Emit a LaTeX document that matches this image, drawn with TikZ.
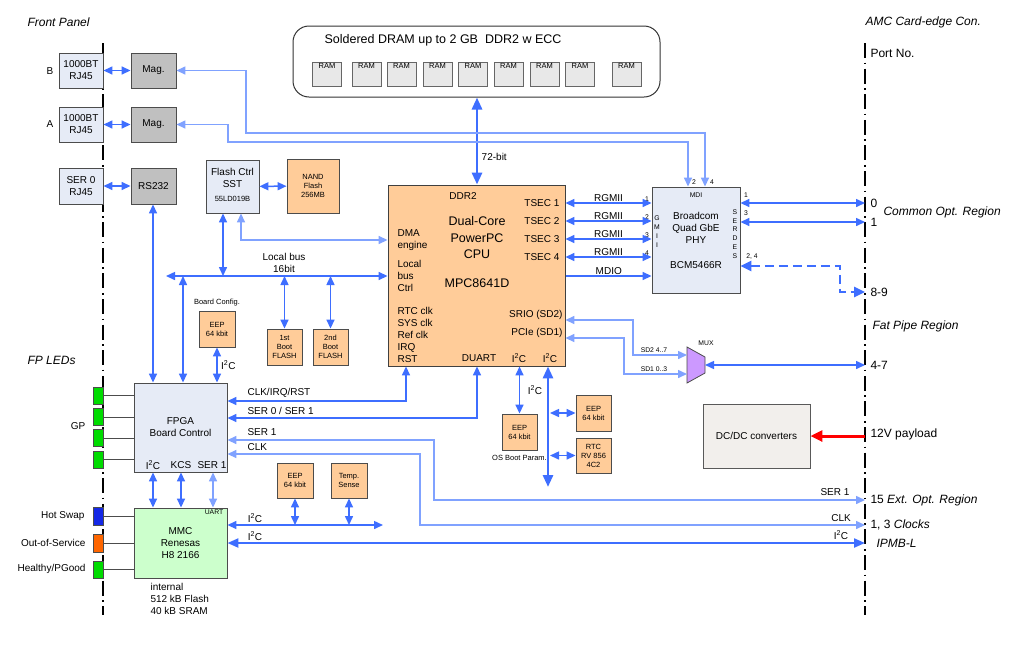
\documentclass[tikz,border=0pt]{standalone}
\usepackage{fontspec}
\setmainfont{Liberation Sans}
\usetikzlibrary{arrows.meta}

\definecolor{azulbus}{RGB}{62,110,255}
\definecolor{azulclaro}{RGB}{128,162,255}
\definecolor{cajaazul}{RGB}{230,235,246}
\definecolor{durazno}{RGB}{255,204,153}
\definecolor{grismag}{RGB}{192,192,192}
\definecolor{verdemmc}{RGB}{204,255,204}
\definecolor{verdeled}{RGB}{0,220,0}
\definecolor{azulled}{RGB}{20,40,230}
\definecolor{naranjaled}{RGB}{255,102,0}
\definecolor{lila}{RGB}{204,153,255}
\definecolor{grisdc}{RGB}{242,239,236}
\definecolor{gristam}{RGB}{232,232,232}

\newcommand{\iic}{I\textsuperscript{2}C}

\tikzset{
  letra/.style={font=\fontsize{10}{12}\selectfont},
  chica/.style={font=\fontsize{7.5}{9}\selectfont},
  mini/.style={font=\fontsize{6.8}{8.8}\selectfont},
  grande/.style={font=\fontsize{12.5}{16.5}\selectfont},
  puerto/.style={font=\fontsize{12}{14}\selectfont},
  titulo/.style={font=\fontsize{12}{14}\selectfont\itshape},
  caja/.style={draw=black!70, line width=0.9pt, align=center, inner sep=1pt},
  cajaA/.style={caja, fill=cajaazul, letra},
  cajaD/.style={caja, fill=durazno, chica},
  cajaG/.style={caja, fill=grismag, letra, minimum width=45pt, minimum height=35pt},
  ram/.style={caja, fill=gristam, draw=black!60, minimum width=29pt, minimum height=24pt,
    label={[anchor=north, inner sep=2pt, chica]north:RAM}},
  led/.style={draw=black!70, line width=0.6pt, minimum width=10pt, minimum height=17pt, inner sep=0pt},
  conn/.style={draw=azulbus, line width=1.5pt, <->},
  fino/.style={draw=azulclaro, line width=1.5pt, <->},
  grueso/.style={draw=azulbus, line width=2.8pt, <->, >={Triangle[length=12pt,width=10pt]}},
  borde/.style={line width=2.4pt, dash pattern=on 15pt off 4.5pt on 1.6pt off 4.5pt},
  >={Triangle[length=9pt,width=8pt]}
}

\begin{document}
\begin{tikzpicture}[x=1pt,y=-1pt]
\useasboundingbox (0,0) rectangle (1024,646);
\fill[white] (0,0) rectangle (1024,646);

% Bordes
\draw[borde] (103,43) -- (103,615);
\draw[borde] (865,43) -- (865,615);
\node[titulo, anchor=west] (tfp) at (24,22) {Front Panel};
\node[titulo, anchor=west] (tamc) at (862,22) {AMC Card-edge Con.};
\node[puerto, anchor=west] (tport) at (867,53) {Port No.};
\node[titulo, anchor=west] (tled) at (24,360) {FP LEDs};

% Panel frontal
\node[cajaA, minimum width=44pt, minimum height=35pt] (rjB) at (81,70.5) {1000BT\\RJ45};
\node[cajaG] (magB) at (153.5,70.5) {Mag.};
\node[cajaA, minimum width=44pt, minimum height=35pt] (rjA) at (81,124.5) {1000BT\\RJ45};
\node[cajaG] (magA) at (153.5,124.5) {Mag.};
\node[cajaA, minimum width=44pt, minimum height=36pt] (rjS) at (81,186) {SER 0\\RJ45};
\node[cajaG, minimum height=36pt] (rs) at (153.5,186) {RS232};
\node[letra] (lB) at (50,71) {B};
\node[letra] (lA) at (50,124) {A};
\draw[conn] (rjB) -- (magB);
\draw[conn] (rjA) -- (magA);
\draw[conn] (rjS) -- (rs);

% DRAM
\node[draw=black!80, line width=1pt, rounded corners=16pt, minimum width=367pt, minimum height=71pt] (dram) at (476.5,61.5) {};
\node[font=\fontsize{12.5}{14}\selectfont] (tdram) at (443,40) {Soldered DRAM up to 2 GB\ \ DDR2 w ECC};
\foreach \x [count=\i] in {327,366.5,401.5,437.5,473,508.5,544.5,580,626.5}
  \node[ram] (ram\i) at (\x,74) {};

% CPU
\node[caja, fill=durazno, draw=black!75, minimum width=177pt, minimum height=181pt] (cpu) at (476.5,275.5) {};
\node[letra] (tddr) at (463,196) {DDR2};
\node[grande, align=center] (tcpu) at (477,238) {Dual-Core\\PowerPC\\CPU};
\node[grande] (tmpc) at (477,283) {MPC8641D};
\node[letra, anchor=west, align=left] (dma) at (394,240) {DMA\\engine};
\node[letra, anchor=west, align=left] (lbc) at (394,276) {Local\\bus\\Ctrl};
\node[letra, anchor=west, align=left] (tclk) at (394,335) {RTC clk\\SYS clk\\Ref clk\\IRQ\\RST};
\foreach \i/\y in {1/203,2/221,3/239,4/257}
  \node[letra, anchor=east] (tsec\i) at (563,\y) {TSEC \i};
\node[letra, anchor=east] (srio) at (566,315) {SRIO (SD2)};
\node[letra, anchor=east] (pcie) at (566,333) {PCIe (SD1)};
\node[letra] (duart) at (479,358) {DUART};
\node[letra] (ci2a) at (519,358) {\iic};
\node[letra] (ci2b) at (550,358) {\iic};
\draw[grueso] (cpu.north -| 477,0) -- (dram.south -| 477,0) node[pos=0.32, right, letra] (t72) {72-bit};

% PHY
\node[cajaA, minimum width=88pt, minimum height=106pt] (phy) at (696,240) {};
\node[mini] (tmdi) at (696,195) {MDI};
\node[letra, align=center] (tphy) at (696,228) {Broadcom\\Quad GbE\\PHY};
\node[letra] (tbcm) at (696,265) {BCM5466R};
\node[mini, align=center] (tgmii) at (657,231.5) {G\\M\\I\\I};
\node[mini, align=center] (tserdes) at (735,234) {S\\E\\R\\D\\E\\S};
\foreach \i/\y in {1/199,2/217,3/235,4/253}
  \node[mini] (pg\i) at (647,\y) {\i};
\node[mini] (pm2) at (694,182) {2};
\node[mini] (pm4) at (712,182) {4};
\node[mini] (ps1) at (746,195) {1};
\node[mini] (ps3) at (746,213) {3};
\node[mini] (ps24) at (752,257) {2, 4};
\foreach \i in {1,...,4}
  \draw[conn] (cpu.east |- tsec\i) -- (phy.west |- tsec\i) node[midway, above, letra, inner sep=1pt] (rg\i) {RGMII};
\coordinate (mdio) at (566,276);
\draw[conn, ->] (mdio) -- (phy.west |- mdio) node[midway, above, letra, inner sep=1pt] (tmdio) {MDIO};
\draw[fino] (magB.east) -| (246,133) -| (phy.north -| 705,0);
\draw[fino] (magA.east) -| (228,142) -| (phy.north -| 688,0);

% Puertos AMC
\coordinate (p0) at (865,203);
\coordinate (p1) at (865,222);
\coordinate (p89) at (865,292);
\coordinate (p47) at (865,365);
\coordinate (p12) at (865,436);
\coordinate (p15) at (865,500);
\coordinate (p13) at (865,525);
\coordinate (pipmb) at (865,543);
\draw[conn] (phy.east |- p0) -- (p0);
\draw[conn] (phy.east |- p1) -- (p1);
\draw[draw=azulbus, line width=2.5pt, dash pattern=on 9pt off 5pt, <->, >={Triangle[length=11pt,width=10pt]}]
  (phy.east |- 0,266) -| (840,292) -- (p89);
\node[puerto, anchor=west] (l0) at (867,203) {0};
\node[puerto, anchor=west] (l1) at (867,222) {1};
\node[titulo, anchor=west] (tcom) at (880,212) {Common Opt. Region};
\node[puerto, anchor=west] (l89) at (867,292) {8-9};
\node[titulo, anchor=west] (tfat) at (869,326) {Fat Pipe Region};
\node[puerto, anchor=west] (l47) at (867,365) {4-7};
\node[puerto, anchor=west] (l12) at (867,434) {12V payload};
\node[puerto, anchor=west] (l15) at (867,500) {15 \textit{Ext. Opt. Region}};
\node[puerto, anchor=west] (l13) at (867,525) {1, 3 \textit{Clocks}};
\node[titulo, anchor=west] (lipmb) at (873,543) {IPMB-L};

% Flash y bus local
\node[cajaA, minimum width=53pt, minimum height=53pt] (fctrl) at (232.5,186.5) {};
\node[letra, align=center] (tfctrl) at (232.5,178) {Flash Ctrl\\SST};
\node[chica] (tsst) at (232.5,199) {55LD019B};
\node[cajaD, minimum width=52pt, minimum height=54pt] (nand) at (313,186) {NAND\\Flash\\256MB};
\draw[conn] (fctrl) -- (nand);
\coordinate (busL) at (166,276);
\draw[conn] (busL) -- (cpu.west |- busL);
\node[letra, align=center] (tbus) at (284,263) {Local bus\\16bit};
\draw[conn] (fctrl.south -| 223,0) -- (223,276);
\draw[fino] (fctrl.south -| 241,0) |- (cpu.west |- 0,240);
\node[cajaD, minimum width=35pt, minimum height=36pt] (boot1) at (284.5,347) {1st\\Boot\\FLASH};
\node[cajaD, minimum width=35pt, minimum height=36pt] (boot2) at (330.5,347) {2nd\\Boot\\FLASH};
\draw[conn] (boot1.north |- busL) -- (boot1.north);
\draw[conn] (boot2.north |- busL) -- (boot2.north);
\node[cajaD, minimum width=36pt, minimum height=36pt] (eepcfg) at (217,329) {EEP\\64 kbit};
\node[chica] (tcfg) at (217,303) {Board Config.};

% FPGA
\node[cajaA, minimum width=93pt, minimum height=89pt] (fpga) at (180.5,427.5) {};
\node[letra, align=center] (tfpga) at (180.5,427) {FPGA\\Board Control};
\node[letra] (fi2c) at (153,465) {\iic};
\node[letra] (fkcs) at (181,465) {KCS};
\node[letra] (fser) at (212,465) {SER 1};
\draw[conn] (rs.south -| 153,0) -- (fpga.north -| 153,0);
\draw[conn] (183,276) -- (fpga.north -| 183,0);
\draw[conn] (eepcfg.south) -- (eepcfg.south |- fpga.north) node[midway, right, letra] (ti2ccfg) {\iic};
\draw[conn] (cpu.south -| 406,0) |- (fpga.east |- 0,401);
\draw[conn] (cpu.south -| 477,0) |- (fpga.east |- 0,418);
\draw[fino] (fpga.east |- 0,440) -| (434,500) -- (p15);
\draw[fino] (fpga.east |- 0,454) -| (420,525) -- (p13);
\node[letra, anchor=west] (tcir) at (244,393) {CLK/IRQ/RST};
\node[letra, anchor=west] (tser01) at (244,411) {SER 0 / SER 1};
\node[letra, anchor=west] (tser1) at (244,432) {SER 1};
\node[letra, anchor=west] (tclkf) at (244,447) {CLK};
\node[letra] (tser1r) at (835,492) {SER 1};
\node[letra] (tclkr) at (841,518) {CLK};
\node[letra] (ti2cr) at (841,535) {\iic};

% LEDs
\foreach \i/\y in {1/395.5,2/417,3/438,4/459.5}{
  \node[led, fill=verdeled] (gp\i) at (98,\y) {};
  \draw[black!70, line width=0.8pt] (gp\i.east) -- (fpga.west |- gp\i);
}
\node[letra] (tgp) at (78,426) {GP};
\node[led, fill=azulled, minimum height=18pt] (hs) at (98,516) {};
\node[led, fill=naranjaled, minimum height=18pt] (oos) at (98,543) {};
\node[led, fill=verdeled] (pgood) at (98,569.5) {};
\node[letra, anchor=east] (ths) at (88,516) {Hot Swap};
\node[letra, anchor=east] (toos) at (89,543) {Out-of-Service};
\node[letra, anchor=east] (tpg) at (89,569) {Healthy/PGood};

% MMC
\node[caja, fill=verdemmc, letra, minimum width=93pt, minimum height=70pt] (mmc) at (180.5,543) {MMC\\Renesas\\H8 2166};
\node[mini] (tuart) at (214,512) {UART};
\node[letra, anchor=north west, align=left] (tint) at (147,580) {internal\\512 kB Flash\\40 kB SRAM};
\foreach \l in {hs,oos,pgood}
  \draw[black!70, line width=0.8pt] (\l.east) -- (mmc.west |- \l);
\draw[conn] (fpga.south -| 153,0) -- (mmc.north -| 153,0);
\draw[conn] (fpga.south -| 181,0) -- (mmc.north -| 181,0);
\draw[fino] (fpga.south -| 213,0) -- (mmc.north -| 213,0);
\coordinate (i2cR) at (383,525);
\draw[conn] (mmc.east |- i2cR) -- (i2cR);
\node[cajaD, minimum width=36pt, minimum height=35pt] (eepmmc) at (295,480.5) {EEP\\64 kbit};
\node[cajaD, minimum width=36pt, minimum height=35pt] (temp) at (349,480.5) {Temp.\\Sense};
\draw[conn] (eepmmc.south) -- (eepmmc.south |- i2cR);
\draw[conn] (temp.south) -- (temp.south |- i2cR);
\draw[draw=azulbus, line width=2.2pt, <->, >={Triangle[length=11pt,width=9pt]}] (mmc.east |- pipmb) -- (pipmb);
\node[letra] (ti2c1) at (255,518) {\iic};
\node[letra] (ti2c2) at (255,536) {\iic};

% I2C de la CPU
\node[cajaD, minimum width=35pt, minimum height=36pt] (eepos) at (519.5,432) {EEP\\64 kbit};
\node[chica] (tos) at (519.5,458) {OS Boot Param.};
\draw[conn] (cpu.south -| eepos) -- (eepos.north);
\node[letra] (ti2cos) at (535,390) {\iic};
\coordinate (i2cB) at (548,487);
\draw[grueso] (cpu.south -| i2cB) -- (i2cB);
\node[cajaD, minimum width=35pt, minimum height=36pt] (eepr) at (593.5,413) {EEP\\64 kbit};
\node[cajaD, minimum width=35pt, minimum height=35pt] (rtc) at (593.5,455.5) {RTC\\RV 856\\4C2};
\draw[conn] ([xshift=2pt]i2cB |- eepr) -- (eepr.west);
\draw[conn] ([xshift=2pt]i2cB |- rtc) -- (rtc.west);

% MUX
\coordinate (muxA) at (687,355);
\coordinate (muxB) at (687,374);
\coordinate (muxO) at (705,365);
\draw[fill=lila, draw=black!70, line width=0.8pt] (687,347) -- (705,357) -- (705,373) -- (687,383) -- cycle;
\node[mini] (tmux) at (706,343) {MUX};
\draw[fino] (cpu.east |- 0,320) -| (633,355) -- (muxA);
\draw[fino] (cpu.east |- 0,338) -| (624,374) -- (muxB);
\node[mini] (tsd2) at (654,350) {SD2 4..7};
\node[mini] (tsd1) at (654,369) {SD1 0..3};
\draw[conn] (muxO) -- (p47);

% DC/DC
\node[caja, fill=grisdc, draw=black!65, letra, minimum width=107pt, minimum height=64pt] (dcdc) at (756.5,436) {DC/DC converters};
\draw[red, line width=3pt, -{Triangle[length=12pt,width=11pt]}] (p12) -- (dcdc.east);
\end{tikzpicture}
\end{document}
